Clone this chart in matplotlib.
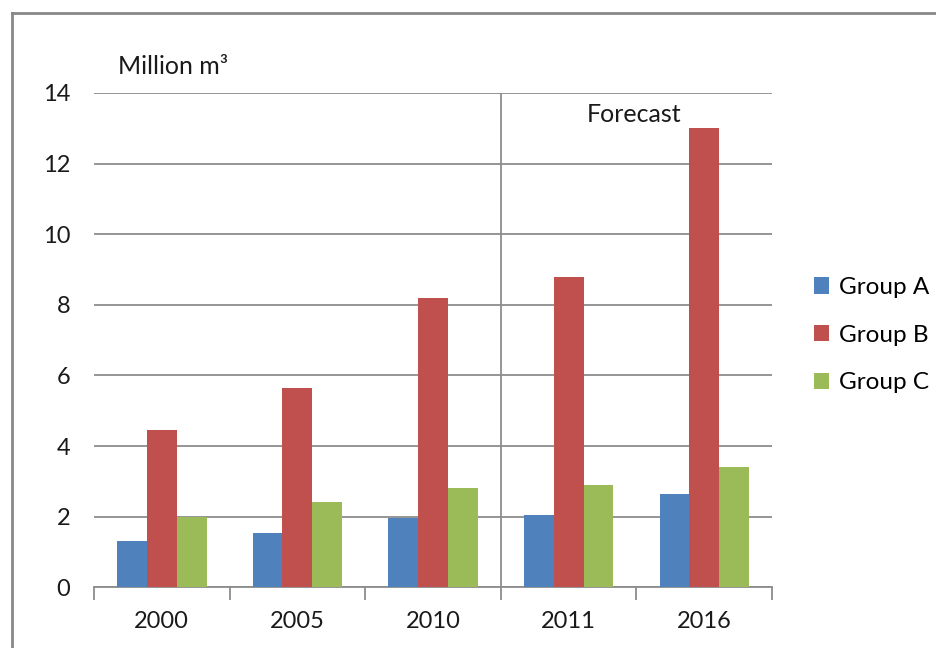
import matplotlib.pyplot as plt
import numpy as np
from matplotlib.lines import Line2D

plt.rcParams['font.family'] = ['Lato', 'DejaVu Sans']

years = ["2000", "2005", "2010", "2011", "2016"]
groupA = [1.32, 1.54, 1.95, 2.05, 2.63]
groupB = [4.45, 5.64, 8.19, 8.79, 13.0]
groupC = [2.0, 2.41, 2.81, 2.89, 3.40]
series = ["Group A", "Group B", "Group C"]
colors = ["#4F81BD", "#C0504D", "#9BBB59"]

fig = plt.figure(figsize=(9.37, 6.48), dpi=100)
ax = fig.add_axes([0.1003, 0.0937, 0.7237, 0.7628])

index = np.arange(len(years))
width = 0.22
for i, (vals, name, c) in enumerate(zip([groupA, groupB, groupC], series, colors)):
    ax.bar(index + (i - 1) * width, vals, width=width, color=c, label=name, zorder=3)

ax.set_xlim(-0.5, len(years) - 0.5)
ax.set_ylim(0, 14)
ax.set_yticks(np.arange(0, 15, 2))
ax.yaxis.grid(True, color='#8c8c8c', linewidth=1.3, zorder=0)
ax.tick_params(axis='y', length=0, pad=17, labelsize=17, labelcolor='#1a1a1a')

ax.set_xticks(index)
ax.set_xticklabels(years)
ax.set_xticks(np.arange(-0.5, len(years)), minor=True)
ax.tick_params(axis='x', which='major', length=0, pad=17, labelsize=17, labelcolor='#1a1a1a')
ax.tick_params(axis='x', which='minor', length=9, width=1.3, color='#8c8c8c')

for s in ['top', 'right', 'left']:
    ax.spines[s].set_visible(False)
ax.spines['bottom'].set_color('#8c8c8c')
ax.spines['bottom'].set_linewidth(1.3)

# forecast divider
ax.axvline(2.5, color='#8c8c8c', linewidth=1.3, zorder=2)
ax.text(3.48, 13.38, "Forecast", ha='center', va='center', fontsize=18, color='#1a1a1a')

fig.text(118 / 937, 1 - 66 / 648, "Million m\u00b3", ha='left', va='center', fontsize=18, color='#1a1a1a')

ax.legend(loc='center left', bbox_to_anchor=(1.029, 0.51), frameon=False, fontsize=17.5,
          handlelength=0.65, handleheight=0.65, handletextpad=0.4, labelspacing=1.1)

# outer frame
fig.add_artist(Line2D([12 / 937, 12 / 937], [0, 1 - 13 / 648], color='#888888', linewidth=2))
fig.add_artist(Line2D([12 / 937, 1], [1 - 13 / 648, 1 - 13 / 648], color='#888888', linewidth=2))

fig.savefig("out.png", dpi=100)
